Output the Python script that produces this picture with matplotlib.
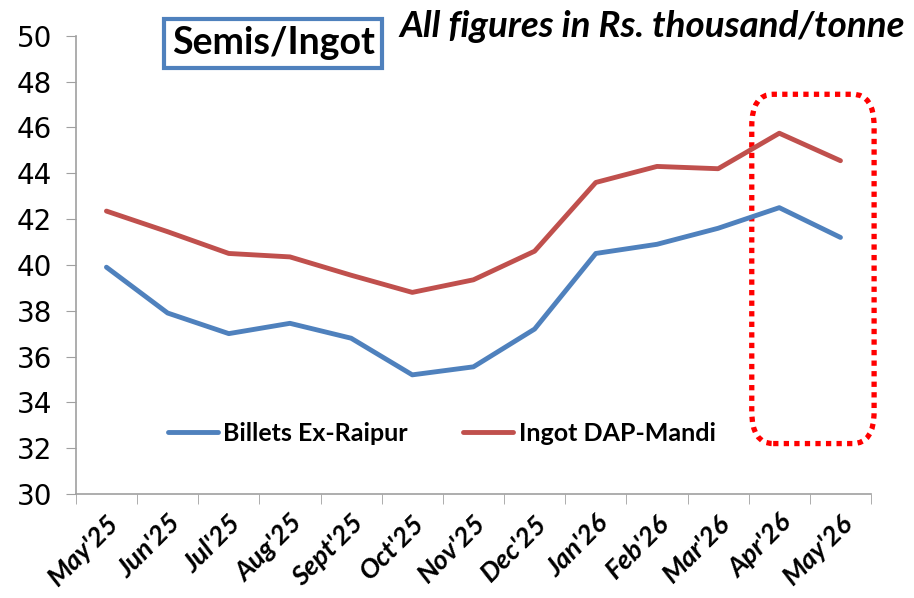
import matplotlib
matplotlib.use("Agg")
import matplotlib.pyplot as plt
from matplotlib.patches import FancyBboxPatch
import numpy as np

months = ["May'25", "Jun'25", "Jul'25", "Aug'25", "Sept'25", "Oct'25", "Nov'25",
          "Dec'25", "Jan'26", "Feb'26", "Mar'26", "Apr'26", "May'26"]
billets = [39.9, 37.9, 37.0, 37.45, 36.8, 35.2, 35.55, 37.2, 40.5, 40.9, 41.6, 42.5, 41.2]
ingot = [42.35, 41.45, 40.5, 40.35, 39.55, 38.8, 39.35, 40.6, 43.6, 44.3, 44.2, 45.75, 44.55]
yticks = list(range(30, 51, 2))

blue = "#4F81BD"
red = "#C0504D"
grey = "#A0A0A0"

fig = plt.figure(figsize=(9.14, 5.98), dpi=100)
ax = fig.add_axes([0.083, 0.174, 0.87, 0.766])

x = np.arange(len(months))
ax.plot(x, billets, color=blue, lw=3.5, solid_capstyle="round", label="Billets Ex-Raipur")
ax.plot(x, ingot, color=red, lw=3.5, solid_capstyle="round", label="Ingot DAP-Mandi")

ax.set_xlim(-0.5, len(months) - 0.5)
ax.set_ylim(30, 50)
ax.set_yticks(yticks)
ax.set_yticklabels([str(v) for v in yticks], fontsize=20, family="DejaVu Sans")
ax.tick_params(axis="y", length=7, color=grey, pad=10)

ax.set_xticks(x)
ax.set_xticklabels(months, rotation=45, ha="right", rotation_mode="anchor",
                   fontsize=19.5, fontweight="bold", fontstyle="italic", family="Lato")
ax.tick_params(axis="x", length=0, pad=12)
ax.set_xticks(np.arange(-0.5, len(months), 1), minor=True)
ax.tick_params(axis="x", which="minor", length=7, color=grey)

for s in ["top", "right"]:
    ax.spines[s].set_visible(False)
for s in ["left", "bottom"]:
    ax.spines[s].set_color(grey)
    ax.spines[s].set_linewidth(1.2)

leg = ax.legend(loc="center", bbox_to_anchor=(0.46, 0.133), ncol=2, frameon=False,
                prop={"family": "Lato", "weight": "bold", "size": 18},
                handlelength=2.0, columnspacing=2.2, handletextpad=0.23)

# title box
fig.text(0.299, 0.928, "Semis/Ingot", ha="center", va="center", fontsize=27,
         fontweight="bold", family="Lato",
         bbox=dict(boxstyle="square,pad=0.2", fc="white", ec=blue, lw=3))
fig.text(0.99, 0.955, "All figures in Rs. thousand/tonne", ha="right", va="center",
         fontsize=26.5, fontweight="bold", fontstyle="italic", family="Lato")

# red dotted highlight around last two months
box = FancyBboxPatch((10.55, 32.2), 2.0, 15.25, boxstyle="round,pad=0,rounding_size=0.35",
                     mutation_aspect=4, fill=False, ec="red", lw=3.8, ls=(0, (1, 1)),
                     clip_on=False, transform=ax.transData)
ax.add_patch(box)

fig.savefig("out.png", dpi=100)
